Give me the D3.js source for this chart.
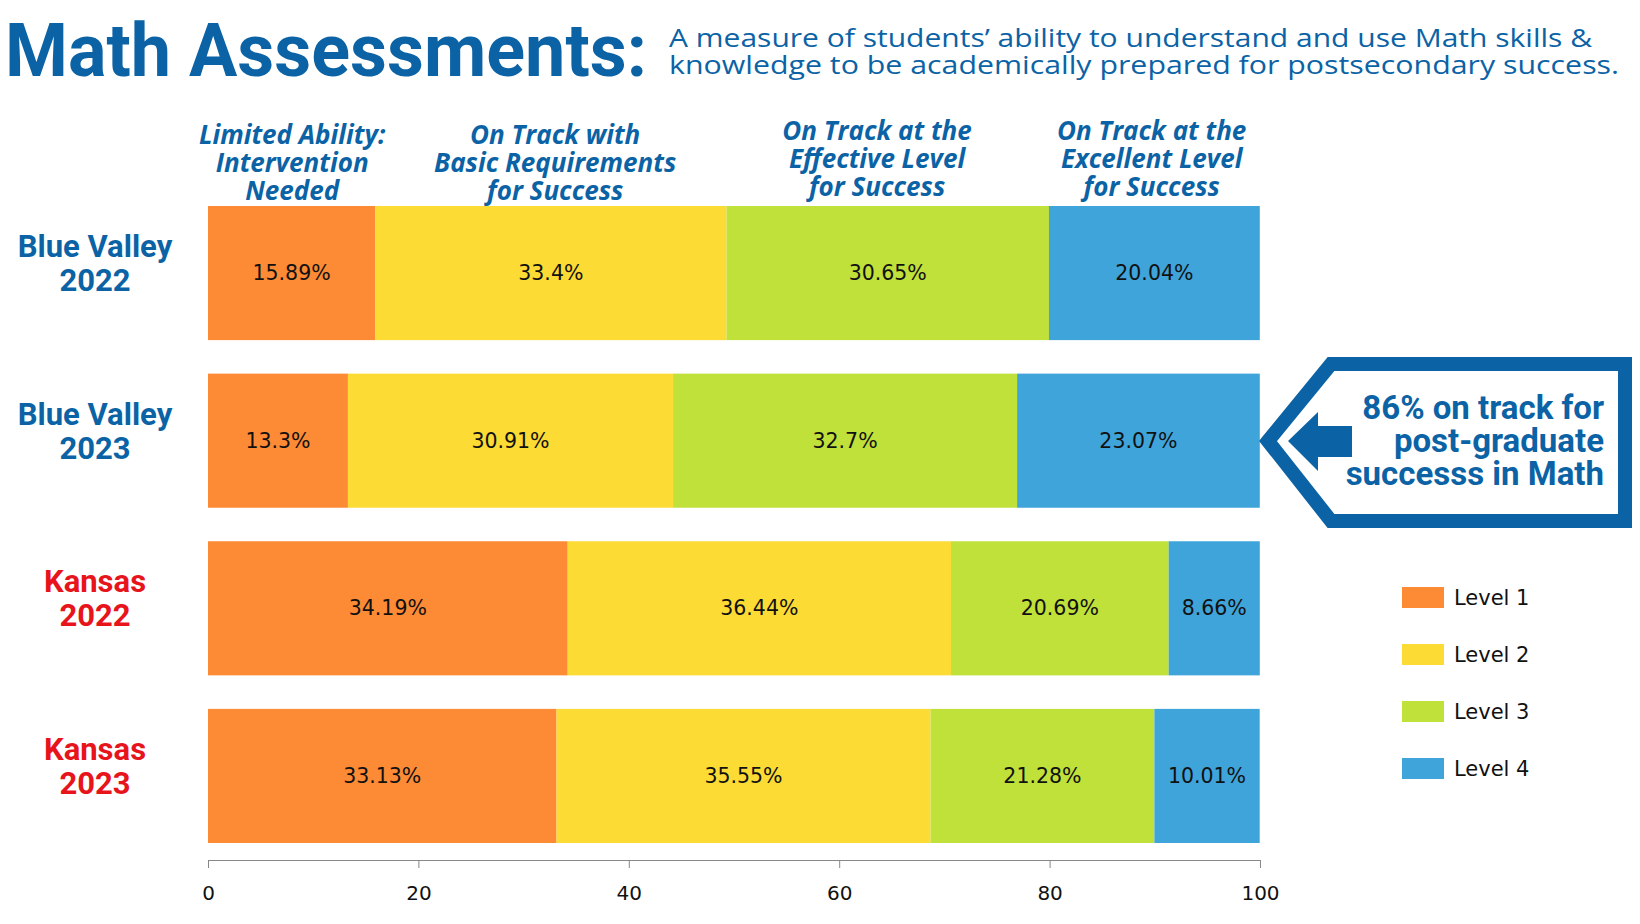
<!DOCTYPE html><html><head><meta charset="utf-8">
<script src="https://cdn.jsdelivr.net/npm/d3@7"></script>
<style>body{margin:0;background:#fff}</style></head><body>
<svg id="c" width="1640" height="924"></svg>
<script>
const categories = ["Blue Valley|2022","Blue Valley|2023","Kansas|2022","Kansas|2023"];
const categoryColors = ["#0b63a5","#0b63a5","#e8141c","#e8141c"];
const level1 = [15.89, 13.3, 34.19, 33.13];
const level2 = [33.4, 30.91, 36.44, 35.55];
const level3 = [30.65, 32.7, 20.69, 21.28];
const level4 = [20.04, 23.07, 8.66, 10.01];
const levelNames = ["Level 1","Level 2","Level 3","Level 4"];
const levelColors = ["#fd8a35","#fcdb35","#c0e03a","#3fa4da"];
const headers = [["Limited Ability:","Intervention","Needed"],["On Track with","Basic Requirements","for Success"],["On Track at the","Effective Level","for Success"],["On Track at the","Excellent Level","for Success"]];
const headerPos = [[8,0],[33,0],[63.6,-4],[89.7,-4]];
const ticks = [0,20,40,60,80,100];
const blue="#0b63a5";
const svg=d3.select("#c");
const x=d3.scaleLinear().domain([0,100]).range([208,1260]);
const y=d3.scaleBand().domain(categories).range([206,843]).paddingInner(0.2).paddingOuter(0);
const series=[level1,level2,level3,level4];
const fmt=v=>d3.format("~f")(v)+"%";
categories.forEach((c,i)=>{
  let acc=0;
  series.forEach((s,k)=>{
    const v=s[i];
    svg.append("rect").attr("x",x(acc)).attr("y",y(c)).attr("width",x(acc+v)-x(acc)).attr("height",y.bandwidth()).attr("fill",levelColors[k]);
    svg.append("text").attr("x",(x(acc)+x(acc+v))/2).attr("y",y(c)+y.bandwidth()/2+7).attr("text-anchor","middle")
      .attr("font-family","DejaVu Sans").attr("font-size",20.5).attr("fill","#111").text(fmt(v));
    acc+=v;
  });
  const [a,b]=c.split("|");
  const cy=y(c)+y.bandwidth()/2;
  [a,b].forEach((t,j)=>svg.append("text").attr("x",95).attr("y",cy-16+j*34).attr("text-anchor","middle")
    .attr("font-family","Roboto").attr("font-weight","bold").attr("font-size",31).attr("fill",categoryColors[i]).text(t));
});
const ax=svg.append("g").attr("transform","translate(0,860)").call(d3.axisBottom(x).tickValues(ticks).tickSize(-8).tickSizeOuter(0).tickPadding(26));
ax.select(".domain").attr("stroke","#888");
ax.selectAll(".tick line").attr("stroke","#888").attr("transform","translate(0,8)");
ax.selectAll("text").attr("font-family","DejaVu Sans").attr("font-size",20).attr("fill","#111");
headers.forEach((h,k)=>h.forEach((t,j)=>svg.append("text").attr("x",x(headerPos[k][0])).attr("y",144+headerPos[k][1]+j*28)
  .attr("text-anchor","middle").attr("font-family","Open Sans").attr("font-style","italic").attr("font-weight","bold")
  .attr("font-size",26).attr("fill",blue).text(t)));
svg.append("text").attr("x",5).attr("y",76).attr("font-family","Roboto").attr("font-weight","bold").attr("font-size",74)
  .attr("textLength",642).attr("lengthAdjust","spacingAndGlyphs").attr("fill",blue).text("Math Assessments:");
["A measure of students’ ability to understand and use Math skills &","knowledge to be academically prepared for postsecondary success."].forEach((t,j)=>
  svg.append("text").attr("x",669).attr("y",47+j*27).attr("font-family","Open Sans").attr("font-size",26)
  .attr("textLength",j?950:923).attr("lengthAdjust","spacingAndGlyphs").attr("fill",blue).text(t));
levelNames.forEach((n,k)=>{
  svg.append("rect").attr("x",1402).attr("y",587+k*57).attr("width",42).attr("height",21).attr("fill",levelColors[k]);
  svg.append("text").attr("x",1454).attr("y",605+k*57).attr("font-family","DejaVu Sans").attr("font-size",21).attr("fill","#111").text(n);
});
svg.append("path").attr("d","M1268,441 L1331,364 L1625,364 L1625,521 L1331,521 Z").attr("fill","#fff").attr("stroke",blue).attr("stroke-width",14);
svg.append("path").attr("d","M1288,441 L1318,412 L1318,426 L1352,426 L1352,457 L1318,457 L1318,471 Z").attr("fill",blue);
["86% on track for","post-graduate","successs in Math"].forEach((t,j)=>svg.append("text").attr("x",1604).attr("y",419+j*33)
  .attr("text-anchor","end").attr("font-family","Roboto").attr("font-weight","bold").attr("font-size",33).attr("fill",blue).text(t));
</script></body></html>
